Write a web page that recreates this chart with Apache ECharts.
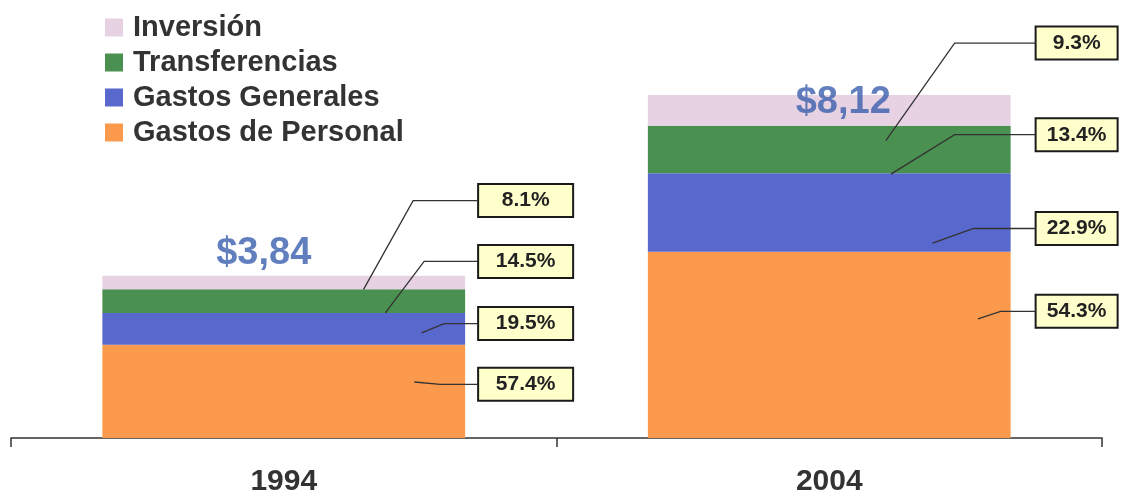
<!DOCTYPE html>
<html>
<head>
<meta charset="utf-8">
<script src="https://cdn.jsdelivr.net/npm/echarts@6/dist/echarts.min.js"></script>
<style>
  html, body { margin: 0; padding: 0; background: #fff; }
  #main { width: 1122px; height: 497px; }
</style>
</head>
<body>
<div id="main"></div>
<script>
var years = ['1994', '2004'];
var personal = [2.21, 4.41];
var generales = [0.75, 1.86];
var transferencias = [0.56, 1.12];
var inversion = [0.32, 0.73];
var totals = [3.84, 8.12];
var totalLabels = ['$3,84', '$8,12'];
var pctPersonal = ['57.4%', '54.3%'];
var pctGenerales = ['19.5%', '22.9%'];
var pctTransfer = ['14.5%', '13.4%'];
var pctInversion = ['8.1%', '9.3%'];

var stackValues = [personal, generales, transferencias, inversion];
var sans = "'Liberation Sans', Arial, sans-serif";
var BAR_FRAC = 0.665;

// where each percent box sits (box: value on the y scale) and where its leader line ends
// fx/fy = point inside the segment, dx = length of the horizontal piece
var leaders = [
    [{ box: 1.27, fx: 0.86, fy: 0.40, dx: 38 }, { box: 3.00, fx: 0.91, fy: 0.36, dx: 35 }],
    [{ box: 2.71, fx: 0.88, fy: 0.63, dx: 34 }, { box: 4.96, fx: 0.785, fy: 0.89, dx: 62 }],
    [{ box: 4.18, fx: 0.78, fy: 1.0, dx: 54 }, { box: 7.18, fx: 0.67, fy: 1.02, dx: 81 }],
    [{ box: 5.62, fx: 0.72, fy: 1.0, dx: 65 }, { box: 9.35, fx: 0.656, fy: 1.48, dx: 81 }]
];
var boxGap = [13, 25];
var boxWidth = [95, 82];
var totalOffsets = [[-20, -22], [14, 8]];

// percent boxes: placed to the right of each bar
function boxLayout(params) {
    var s = params.seriesIndex, c = params.dataIndex;
    var L = leaders[s][c];
    var r = params.rect;
    var base = 0;
    for (var i = 0; i < s; i++) base += stackValues[i][c];
    var pxPerUnit = r.height / stackValues[s][c];
    var boxY = r.y + r.height - (L.box - base) * pxPerUnit;
    var boxX = r.x + r.width + boxGap[c];
    return { x: boxX + boxWidth[c] / 2, y: boxY, align: 'center', verticalAlign: 'middle' };
}

function barSeries(name, values, texts, color) {
    return {
        name: name,
        type: 'bar',
        stack: 'total',
        barWidth: (BAR_FRAC * 100) + '%',
        data: values.map(function (v, i) {
            return { value: v, label: { width: boxWidth[i] - 2 } };
        }),
        itemStyle: { color: color },
        label: {
            show: true,
            formatter: function (p) { return texts[p.dataIndex]; },
            backgroundColor: '#ffffcc',
            borderColor: '#1a1a1a',
            borderWidth: 2,
            padding: [6, 0, 4, 0],
            align: 'center',
            fontFamily: sans,
            fontWeight: 'bold',
            fontSize: 21,
            color: '#222'
        },
        labelLayout: boxLayout
    };
}

// segments for the leader lines: [category, base, value, series]
var leaderData = [];
stackValues.forEach(function (vals, s) {
    vals.forEach(function (v, c) {
        var base = 0;
        for (var i = 0; i < s; i++) base += stackValues[i][c];
        leaderData.push([c, base, v, s]);
    });
});

function renderLeader(params, api) {
    var c = api.value(0), base = api.value(1), v = api.value(2), s = api.value(3);
    var L = leaders[s][c];
    var bw = api.size([1, 0])[0] * BAR_FRAC;
    var left = api.coord([c, 0])[0] - bw / 2;
    var top = api.coord([c, base + v])[1];
    var bottom = api.coord([c, base])[1];
    var boxX = left + bw + boxGap[c];
    var boxY = api.coord([c, L.box])[1];
    var ax = left + bw * L.fx;
    var ay = top + (bottom - top) * L.fy;
    return {
        type: 'polyline',
        shape: { points: [[ax, ay], [boxX - L.dx, boxY], [boxX, boxY]] },
        style: { stroke: '#333', lineWidth: 1.3, fill: null }
    };
}

var chart = echarts.init(document.getElementById('main'));
var option = {
    animation: false,
    backgroundColor: '#fff',
    legend: {
        data: ['Inversión', 'Transferencias', 'Gastos Generales', 'Gastos de Personal'],
        orient: 'vertical',
        left: 100,
        top: 8,
        icon: 'rect',
        itemWidth: 18,
        itemHeight: 18,
        itemGap: 6,
        selectedMode: false,
        textStyle: {
            fontFamily: sans,
            fontWeight: 'bold',
            fontSize: 29,
            color: '#333',
            padding: [0, 0, 0, 5]
        }
    },
    grid: { left: 11, right: 20, top: 95, bottom: 58 },
    xAxis: {
        type: 'category',
        data: years,
        axisLine: { lineStyle: { color: '#333', width: 1.5 } },
        axisTick: { show: true, length: 9, lineStyle: { color: '#333', width: 1.5 } },
        axisLabel: {
            margin: 29,
            fontFamily: sans,
            fontWeight: 'bold',
            fontSize: 30,
            color: '#333'
        }
    },
    yAxis: { type: 'value', min: 0, max: 8.12, show: false },
    series: [
        barSeries('Gastos de Personal', personal, pctPersonal, '#fb9a4c'),
        barSeries('Gastos Generales', generales, pctGenerales, '#5868cc'),
        barSeries('Transferencias', transferencias, pctTransfer, '#4a9050'),
        barSeries('Inversión', inversion, pctInversion, '#e6d2e2'),
        {
            name: 'Leaders',
            type: 'custom',
            z: 5,
            silent: true,
            encode: { x: 0, y: 1 },
            data: leaderData,
            renderItem: renderLeader
        },
        {
            name: 'Total',
            type: 'scatter',
            symbolSize: 1,
            itemStyle: { color: 'rgba(0,0,0,0)' },
            z: 10,
            data: totals.map(function (v, i) {
                return { value: [i, v], label: { offset: totalOffsets[i] } };
            }),
            label: {
                show: true,
                position: 'inside',
                formatter: function (p) { return totalLabels[p.dataIndex]; },
                fontFamily: sans,
                fontWeight: 'bold',
                fontSize: 38,
                color: '#3a5fae'
            }
        }
    ]
};
chart.setOption(option);
</script>
</body>
</html>
